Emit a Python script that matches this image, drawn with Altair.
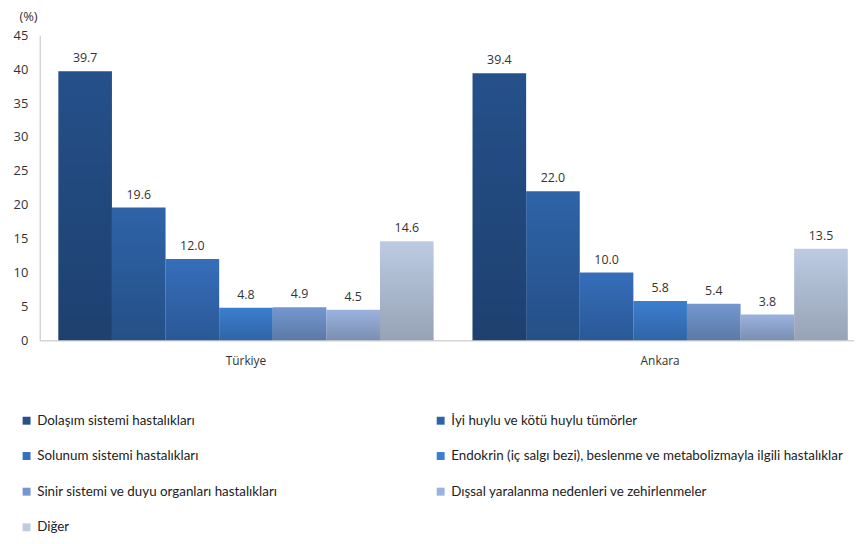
import altair as alt
import pandas as pd

groups = ["Türkiye", "Ankara"]
categories = [
    "Dolaşım sistemi hastalıkları",
    "İyi huylu ve kötü huylu tümörler",
    "Solunum sistemi hastalıkları",
    "Endokrin (iç salgı bezi), beslenme ve metabolizmayla ilgili hastalıklar",
    "Sinir sistemi ve duyu organları hastalıkları",
    "Dışsal yaralanma nedenleri ve zehirlenmeler",
    "Diğer",
]
turkiye_values = [39.7, 19.6, 12.0, 4.8, 4.9, 4.5, 14.6]
ankara_values = [39.4, 22.0, 10.0, 5.8, 5.4, 3.8, 13.5]
colors = ["#25508a", "#2e63a8", "#356ebb", "#3b7ecf", "#7397cf", "#9ab2de", "#bccbe3"]

# legend is laid out column by column: reorder so it reads row by row like the original
legend_order = [0, 2, 4, 6, 1, 3, 5]
legend_domain = [categories[i] for i in legend_order]
legend_range = [colors[i] for i in legend_order]

rows = []
for g, vals in zip(groups, [turkiye_values, ankara_values]):
    for c, v in zip(categories, vals):
        rows.append({"Group": g, "Category": c, "Value": v})
df = pd.DataFrame(rows)

x_enc = alt.X("Group:N", sort=groups, title=None,
              scale=alt.Scale(paddingInner=0.094, paddingOuter=0.03, align=0.75),
              axis=alt.Axis(labelAngle=0, ticks=False, domainColor="#bfbfbf",
                            labelPadding=15, labelFont="Open Sans", labelFontSize=12,
                            labelColor="#333333"))
xo_enc = alt.XOffset("Category:N", sort=categories)
y_enc = alt.Y("Value:Q", scale=alt.Scale(domain=[0, 45]),
              axis=alt.Axis(values=list(range(0, 50, 5)), grid=False, ticks=False,
                            domainColor="#bfbfbf", labelPadding=12,
                            labelFont="Open Sans", labelFontSize=13, labelColor="#333333",
                            title="(%)", titleAngle=0, titleAlign="left",
                            titleBaseline="middle", titleX=-21, titleY=-19,
                            titleFont="Open Sans", titleFontSize=13,
                            titleFontWeight="normal", titleColor="#333333"))

base = alt.Chart(df)

bars = base.mark_bar().encode(
    x=x_enc, xOffset=xo_enc, y=y_enc,
    color=alt.Color("Category:N",
                    scale=alt.Scale(domain=legend_domain, range=legend_range),
                    legend=alt.Legend(orient="none", legendX=-20, legendY=382,
                                      columns=2, title=None, symbolType="square",
                                      symbolSize=64, symbolStrokeWidth=0,
                                      labelFont="Lato", labelFontSize=13.5,
                                      labelColor="#222222", labelOffset=4,
                                      labelLimit=500,
                                      rowPadding=21, columnPadding=157)),
)

shade = base.mark_bar(
    color=alt.Gradient(
        gradient="linear",
        stops=[alt.GradientStop(color="rgba(0,0,0,0)", offset=0),
               alt.GradientStop(color="rgba(0,0,0,0.2)", offset=1)],
        x1=0, x2=0, y1=0, y2=1,
    )
).encode(x=x_enc, xOffset=xo_enc, y=y_enc)

labels = base.mark_text(baseline="alphabetic", dy=-9, font="Open Sans",
                        fontSize=12.5, color="#333333").encode(
    x=x_enc, xOffset=xo_enc, y=y_enc,
    text=alt.Text("Value:Q", format=".1f"),
)

chart = alt.layer(bars, shade, labels).properties(
    width=822, height=308,
    padding={"left": 32, "top": 25, "right": 0, "bottom": 195},
    autosize=alt.AutoSizeParams(type="none"),
    background="white",
).configure_view(stroke=None)

chart.save("out.html", embed_options={"renderer": "svg", "actions": False})
